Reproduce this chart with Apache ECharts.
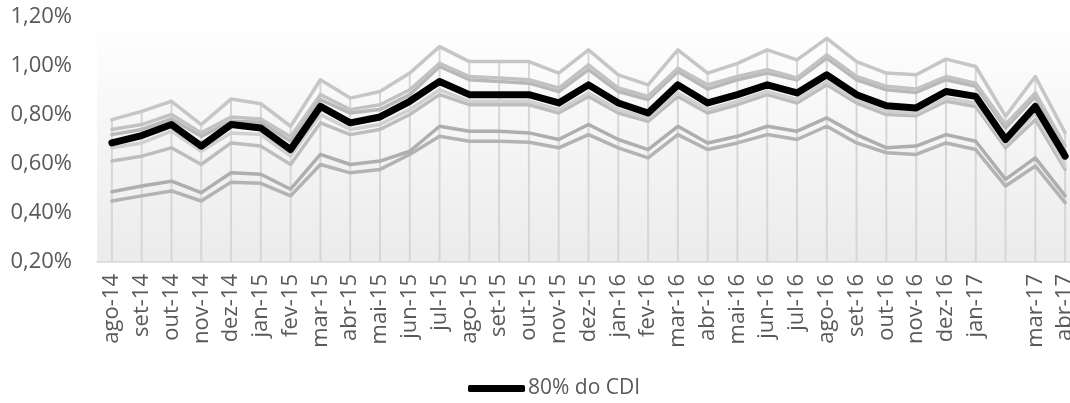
<!DOCTYPE html>
<html>
<head>
<meta charset="utf-8">
<script src="https://cdn.jsdelivr.net/npm/echarts@6/dist/echarts.min.js"></script>
<style>
  html, body { margin: 0; padding: 0; background: #fff; overflow: hidden; }
  #chart { width: 1090px; height: 403px; }
</style>
</head>
<body>
<div id="chart"></div>
<script>
// --- categorias (meses) e rótulos do eixo X ---
const categories = ['ago-14','set-14','out-14','nov-14','dez-14','jan-15','fev-15','mar-15','abr-15','mai-15','jun-15','jul-15',
  'ago-15','set-15','out-15','nov-15','dez-15','jan-16','fev-16','mar-16','abr-16','mai-16','jun-16','jul-16',
  'ago-16','set-16','out-16','nov-16','dez-16','jan-17','fev-17','mar-17','abr-17'];
// fev-17 aparece sem rótulo no original
const tickLabels = ['ago-14','set-14','out-14','nov-14','dez-14','jan-15','fev-15','mar-15','abr-15','mai-15','jun-15','jul-15',
  'ago-15','set-15','out-15','nov-15','dez-15','jan-16','fev-16','mar-16','abr-16','mai-16','jun-16','jul-16',
  'ago-16','set-16','out-16','nov-16','dez-16','jan-17','','mar-17','abr-17'];
const yTicks = [0.2, 0.4, 0.6, 0.8, 1.0, 1.2];

// --- séries (rentabilidade mensal, %) ---
const cdi80 = [0.686,0.716,0.761,0.673,0.761,0.747,0.659,0.835,0.768,0.792,0.856,0.937,0.883,0.883,0.883,0.849,0.923,
  0.849,0.808,0.923,0.849,0.883,0.923,0.890,0.964,0.883,0.838,0.829,0.896,0.876,0.700,0.835,0.632];
const linhaTopo = [0.781,0.815,0.856,0.761,0.865,0.846,0.754,0.944,0.869,0.896,0.971,1.079,1.018,1.018,1.018,0.971,1.066,
  0.964,0.923,1.066,0.971,1.011,1.066,1.025,1.113,1.018,0.971,0.964,1.028,0.998,0.795,0.957,0.727];
const linhaB = [0.741,0.761,0.802,0.727,0.792,0.784,0.711,0.883,0.822,0.842,0.903,1.011,0.957,0.951,0.944,0.910,1.005,
  0.910,0.876,0.991,0.923,0.957,0.985,0.951,1.045,0.957,0.917,0.906,0.957,0.930,0.761,0.890,0.673];
const linhaC = [0.720,0.741,0.784,0.713,0.774,0.770,0.693,0.863,0.808,0.822,0.883,0.998,0.944,0.937,0.930,0.896,0.985,
  0.896,0.863,0.978,0.906,0.944,0.971,0.944,1.032,0.944,0.903,0.892,0.944,0.917,0.747,0.876,0.652];
const linhaD = [0.666,0.686,0.734,0.652,0.727,0.720,0.632,0.802,0.741,0.761,0.822,0.903,0.856,0.856,0.856,0.822,0.890,
  0.822,0.788,0.890,0.822,0.856,0.896,0.863,0.937,0.863,0.815,0.808,0.869,0.849,0.680,0.808,0.592];
const linhaE = [0.612,0.632,0.666,0.598,0.686,0.673,0.598,0.768,0.720,0.741,0.802,0.883,0.842,0.842,0.842,0.808,0.876,
  0.808,0.774,0.876,0.808,0.842,0.883,0.849,0.923,0.849,0.802,0.797,0.856,0.835,0.666,0.781,0.578];
const linhaF = [0.487,0.510,0.530,0.483,0.564,0.558,0.497,0.639,0.598,0.612,0.652,0.754,0.734,0.734,0.727,0.700,0.761,
  0.700,0.659,0.754,0.686,0.713,0.754,0.734,0.788,0.720,0.666,0.673,0.720,0.693,0.537,0.625,0.470];
const linhaG = [0.449,0.470,0.490,0.449,0.526,0.521,0.470,0.598,0.564,0.578,0.639,0.713,0.693,0.693,0.689,0.666,0.720,
  0.666,0.625,0.720,0.659,0.686,0.720,0.700,0.754,0.686,0.646,0.639,0.686,0.659,0.510,0.592,0.442];

const FONT = 'Open Sans';
const TXT = '#595959';

const chart = echarts.init(document.getElementById('chart'), null, { renderer: 'canvas' });

const grayLine = (name, data, color, width) => ({
  name, type: 'line', data,
  showSymbol: false, symbol: 'none', silent: true,
  lineStyle: { color, width, cap: 'round', join: 'round' },
  z: 3
});

const option = {
  animation: false,
  backgroundColor: '#fff',
  textStyle: { fontFamily: FONT },
  grid: {
    left: 97, right: 10, top: 17, bottom: 141,
    show: true, borderWidth: 0,
    backgroundColor: new echarts.graphic.LinearGradient(0, 0, 0, 1, [
      { offset: 0, color: '#ffffff' },
      { offset: 0.1, color: '#fdfdfd' },
      { offset: 1, color: '#ebebeb' }
    ])
  },
  legend: {
    data: ['80% do CDI'],
    left: 468, top: 378, padding: 0,
    icon: 'roundRect',
    itemWidth: 57, itemHeight: 7, itemGap: 0,
    textStyle: { fontFamily: FONT, fontSize: 21, color: TXT, padding: [0, 0, 0, -2] }
  },
  xAxis: {
    type: 'category',
    data: categories,
    boundaryGap: true,
    axisLine: { lineStyle: { color: '#d9d9d9', width: 1.5 } },
    axisTick: { length: 9, lineStyle: { color: '#d9d9d9', width: 1.5 } },
    splitLine: { show: false },
    axisLabel: {
      rotate: 90, interval: 0, margin: 12,
      fontFamily: FONT, fontSize: 22, color: TXT,
      formatter: (v, i) => tickLabels[i]
    }
  },
  yAxis: {
    type: 'value',
    min: yTicks[0], max: yTicks[yTicks.length - 1], interval: 0.2,
    axisLine: { show: false },
    axisTick: { show: false },
    splitLine: { show: false },
    axisLabel: {
      margin: 25, fontFamily: FONT, fontSize: 22, color: TXT,
      formatter: v => v.toFixed(2).replace('.', ',') + '%'
    }
  },
  series: [
    // linhas de chamada (drop lines) até a série mais alta
    {
      name: 'drop', type: 'bar', data: linhaTopo, barWidth: 2, silent: true,
      itemStyle: { color: '#d6d6d6' }, z: 1
    },
    grayLine('linha G', linhaG, '#b3b3b3', 3.5),
    grayLine('linha F', linhaF, '#aeaeae', 3.5),
    grayLine('linha E', linhaE, '#bdbdbd', 3.5),
    grayLine('linha D', linhaD, '#d0d0d0', 3.5),
    grayLine('linha C', linhaC, '#b8b8b8', 3.5),
    grayLine('linha B', linhaB, '#c2c2c2', 3.5),
    grayLine('linha topo', linhaTopo, '#c6c6c6', 3.5),
    {
      name: '80% do CDI', type: 'line', data: cdi80,
      showSymbol: false, symbol: 'none',
      lineStyle: { color: '#000', width: 7, cap: 'round', join: 'round' },
      itemStyle: { color: '#000' },
      z: 5
    }
  ]
};

chart.setOption(option);
</script>
</body>
</html>
